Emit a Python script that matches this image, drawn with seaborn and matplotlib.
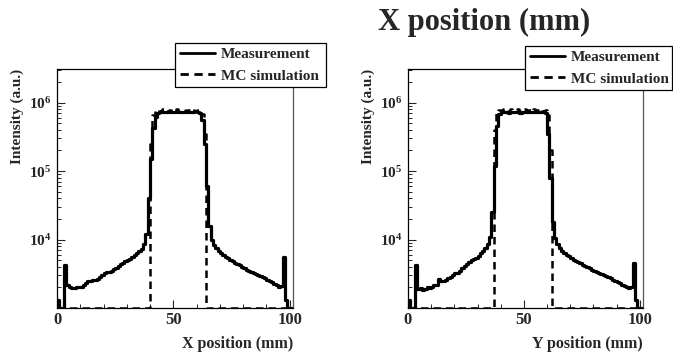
import numpy as np
import pandas as pd
import matplotlib
matplotlib.use("Agg")
import matplotlib.pyplot as plt
import seaborn as sns
from matplotlib.ticker import LogLocator, NullFormatter, FixedLocator, MultipleLocator
from matplotlib.lines import Line2D

# ---------------- data (1 mm bins, left edges 0..100) ----------------
bin_edges_mm = list(range(0, 101))

meas_x = [1300, 0, 0, 4200, 2200, 2000, 1950, 1950, 2000, 2050,
          2000, 2200, 2350, 2500, 2450, 2550, 2600, 2650, 2800, 3000,
          3200, 3400, 3350, 3500, 3700, 3900, 4100, 4400, 4500, 4800,
          5000, 5200, 5500, 5900, 6300, 6700, 7300, 8500, 12000, 40000,
          150000, 420000, 620000, 700000, 730000, 740000, 720000, 730000, 750000, 740000,
          730000, 750000, 740000, 730000, 740000, 750000, 740000, 730000, 740000, 750000,
          740000, 700000, 560000, 250000, 60000, 16000, 10000, 8200, 7400, 6900,
          6400, 6000, 5600, 5300, 5000, 4800, 4600, 4400, 4200, 4000,
          3800, 3650, 3500, 3350, 3200, 3100, 3000, 2900, 2800, 2700,
          2600, 2500, 2400, 2250, 2150, 2050, 2100, 5500, 1300, 0, 0]

# MC simulation: non-zero bins only, starting at the given bin
mc_x_first_bin = 40
mc_x_vals = [250000, 650000, 780000, 790000, 760000, 800000, 770000, 750000,
             790000, 760000, 780000, 800000, 760000, 790000, 770000, 750000,
             780000, 800000, 770000, 760000, 790000, 750000, 680000, 350000]

meas_y = [1300, 0, 0, 4200, 1900, 1950, 1850, 1900, 2000, 1950,
          2050, 2200, 2200, 2650, 2500, 2450, 2550, 2700, 2850, 3000,
          3300, 3250, 3500, 3800, 4100, 4400, 4700, 5000, 5200, 5400,
          5800, 6300, 6900, 7600, 8600, 11000, 25000, 120000, 450000, 680000,
          720000, 730000, 720000, 710000, 730000, 720000, 740000, 720000, 710000, 730000,
          720000, 730000, 720000, 740000, 720000, 730000, 720000, 730000, 720000, 700000,
          350000, 80000, 18000, 10500, 8500, 7400, 6700, 6300, 6000, 5700,
          5400, 5100, 4900, 4700, 4500, 4300, 4100, 3950, 3800, 3650,
          3500, 3400, 3250, 3100, 3000, 2900, 2800, 2700, 2600, 2500,
          2400, 2300, 2200, 2100, 2000, 1950, 2000, 4500, 1300, 0, 0]

mc_y_first_bin = 37
mc_y_vals = [400000, 750000, 790000, 770000, 800000, 780000, 760000, 800000,
             770000, 790000, 800000, 760000, 780000, 800000, 770000, 790000,
             760000, 800000, 780000, 770000, 800000, 760000, 780000, 650000, 200000]

series_labels = ["Measurement", "MC simulation"]
x_titles = ["X position (mm)", "Y position (mm)"]
y_title = "Intensity (a.u.)"
big_title = "X position (mm)"

# ---------------- style ----------------
sns.set_style("ticks")
SERIF = "Liberation Serif"
plt.rcParams["font.family"] = [SERIF, "DejaVu Serif"]
plt.rcParams["font.weight"] = "bold"
plt.rcParams["mathtext.fontset"] = "custom"
plt.rcParams["mathtext.rm"] = SERIF + ":bold"
plt.rcParams["mathtext.bf"] = SERIF + ":bold"
plt.rcParams["mathtext.it"] = SERIF + ":bold"

YMIN, YMAX = 1000, 3.1e6

fig = plt.figure(figsize=(6.73, 3.52), dpi=100)
ax_pos = [[57 / 673, 1 - 308 / 352, 236 / 673, 239 / 352],
          [408 / 673, 1 - 308 / 352, 235 / 673, 239 / 352]]


def full_hist(first_bin, vals):
    out = np.zeros(len(bin_edges_mm))
    out[first_bin:first_bin + len(vals)] = vals
    return out


def make_df(vals, label):
    vals = np.asarray(vals, dtype=float)
    x = np.array(bin_edges_mm + [bin_edges_mm[-1] + 1], dtype=float)
    v = np.append(vals, vals[-1])
    v = np.clip(v, YMIN, None)
    return pd.DataFrame({"pos": x, "val": v, "series": label})


panels = [(meas_x, full_hist(mc_x_first_bin, mc_x_vals)),
          (meas_y, full_hist(mc_y_first_bin, mc_y_vals))]
DASH = (0, (3.0, 2.0))
for i, (meas, mc) in enumerate(panels):
    ax = fig.add_axes(ax_pos[i])
    ax.set_yscale("log")
    dfm = make_df(meas, series_labels[0])
    dfc = make_df(mc, series_labels[1])
    sns.lineplot(data=dfc, x="pos", y="val", ax=ax, color="black", lw=1.8,
                 drawstyle="steps-post", linestyle=DASH, estimator=None,
                 legend=False, sort=False, zorder=3)
    sns.lineplot(data=dfm, x="pos", y="val", ax=ax, color="black", lw=2.3,
                 drawstyle="steps-post", estimator=None, legend=False, sort=False, zorder=2)
    ax.set_xlim(0, 101.4)
    ax.set_ylim(YMIN, YMAX)
    ax.set_xlabel("")
    ax.set_ylabel("")
    ax.xaxis.set_major_locator(FixedLocator([0, 50, 100]))
    ax.xaxis.set_minor_locator(MultipleLocator(10))
    ax.set_xticklabels(["0", "50", "100"], fontsize=12, fontweight="bold")
    ax.yaxis.set_major_locator(FixedLocator([1e4, 1e5, 1e6]))
    ax.set_yticklabels([r"$\mathbf{10^{4}}$", r"$\mathbf{10^{5}}$", r"$\mathbf{10^{6}}$"], fontsize=11)
    ax.yaxis.set_minor_locator(LogLocator(base=10, subs=np.arange(2, 10), numticks=20))
    ax.yaxis.set_minor_formatter(NullFormatter())
    ax.tick_params(which="major", direction="in", length=6, width=0.8, top=False, right=False, pad=4)
    ax.tick_params(which="minor", direction="in", length=3, width=0.7, top=False, right=False)
    ax.tick_params(axis="x", which="major", pad=3)
    for sp in ax.spines.values():
        sp.set_linewidth(0.9)
        sp.set_color("black")
    ax.spines["right"].set_color("#555555")
    ax.text(1.0, -0.118, x_titles[i], transform=ax.transAxes, ha="right", va="top",
            fontsize=11.5, fontweight="bold")
    ax.text(-0.17, 1.0, y_title, transform=ax.transAxes, ha="center", va="top",
            rotation=90, fontsize=11, fontweight="bold")

handles = [Line2D([], [], color="black", lw=2.0),
           Line2D([], [], color="black", lw=2.0, linestyle=DASH)]
leg_boxes = [(175 / 673, 1 - 85 / 352, 151 / 673, 42 / 352),
             (525 / 673, 1 - 85 / 352, 147 / 673, 39 / 352)]
for bb in leg_boxes:
    leg = fig.legend(handles, series_labels, loc="upper left", bbox_to_anchor=bb,
                     mode="expand", borderaxespad=0, fancybox=False, frameon=True,
                     prop={"family": SERIF, "weight": "bold", "size": 11},
                     handlelength=2.3, handletextpad=0.4, labelspacing=0.5,
                     borderpad=0.3)
    leg.get_frame().set_edgecolor("black")
    leg.get_frame().set_linewidth(0.9)
    leg.get_frame().set_alpha(1)

fig.text(484 / 673, 1 - 22 / 352, big_title, ha="center", va="center",
         fontsize=22, fontweight="bold")

fig.savefig("out.png", dpi=100)
